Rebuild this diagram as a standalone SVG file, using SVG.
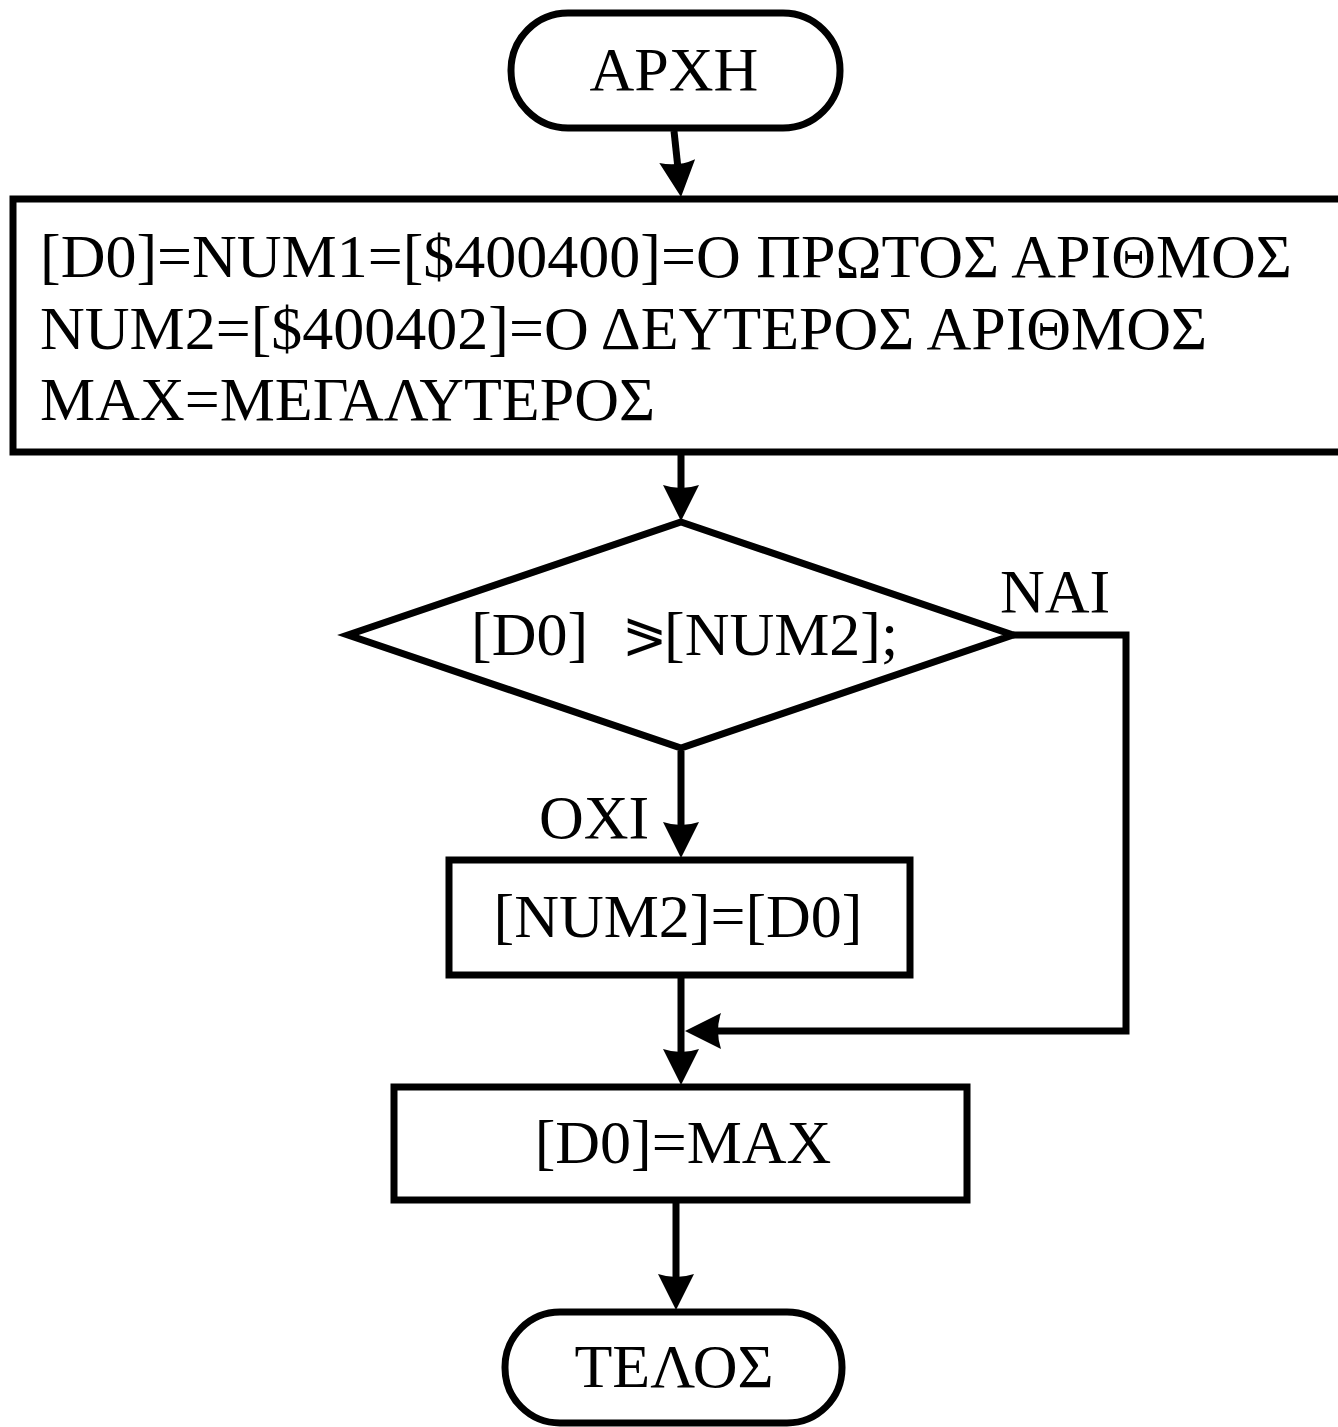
<svg xmlns="http://www.w3.org/2000/svg" width="1338" height="1427" viewBox="0 0 1338 1427">
<style>
.shape{fill:#fff;stroke:#000;stroke-width:7;stroke-linejoin:miter}
.t{font-family:"Liberation Serif","Times New Roman",serif;font-size:62px;fill:#000}
.c{text-anchor:middle}
.edge{fill:none;stroke:#000;stroke-width:7}
</style>
<defs>
<marker id="ah" markerUnits="userSpaceOnUse" markerWidth="80" markerHeight="80" refX="0" refY="0" orient="auto" overflow="visible" viewBox="-40 -40 80 80">
<path d="M21,0 L-15,-18 Q-9,0 -15,18 Z" fill="#000"/>
</marker>
</defs>
<rect width="1338" height="1427" fill="#fff"/>
<g id="start">
<rect class="shape" x="511" y="13" width="329" height="115" rx="57" ry="57"/>
<text class="t c" x="674" y="90">ΑΡΧΗ</text>
</g>
<g id="init">
<rect class="shape" x="13" y="199" width="1340" height="253"/>
<text class="t" x="40" y="277">[D0]=NUM1=[$400400]=Ο ΠΡΩΤΟΣ ΑΡΙΘΜΟΣ</text>
<text class="t" x="40" y="349">NUM2=[$400402]=Ο ΔΕΥΤΕΡΟΣ ΑΡΙΘΜΟΣ</text>
<text class="t" x="40" y="420">MAX=ΜΕΓΑΛΥΤΕΡΟΣ</text>
</g>
<g id="decision">
<polygon class="shape" points="681,522 1013,635 681,748 348,635"/>
<text class="t" y="655"><tspan x="471">[D0]</tspan><tspan x="622" font-size="54" dy="-2">⪖</tspan><tspan x="664" dy="2">[NUM2];</tspan></text>
</g>
<g id="swap">
<rect class="shape" x="449" y="860" width="461" height="115"/>
<text class="t c" x="678" y="937">[NUM2]=[D0]</text>
</g>
<g id="result">
<rect class="shape" x="394" y="1087" width="573" height="113"/>
<text class="t c" x="683" y="1163">[D0]=MAX</text>
</g>
<g id="end">
<rect class="shape" x="505" y="1312" width="337" height="111" rx="55" ry="55"/>
<text class="t c" x="674" y="1387">ΤΕΛΟΣ</text>
</g>
<g id="connectors">
<line class="edge" x1="674" y1="131" x2="678.8" y2="176" marker-end="url(#ah)"/>
<line class="edge" x1="681" y1="455" x2="681" y2="500" marker-end="url(#ah)"/>
<line class="edge" x1="681" y1="751" x2="681" y2="837" marker-end="url(#ah)"/>
<line class="edge" x1="681" y1="978" x2="681" y2="1064" marker-end="url(#ah)"/>
<polyline class="edge" points="1013,635 1126,635 1126,1031 706,1031" marker-end="url(#ah)"/>
<line class="edge" x1="676" y1="1203" x2="676" y2="1289" marker-end="url(#ah)"/>
<text class="t" x="1000" y="612">ΝΑΙ</text>
<text class="t" x="539" y="838">ΟΧΙ</text>
</g>
</svg>
